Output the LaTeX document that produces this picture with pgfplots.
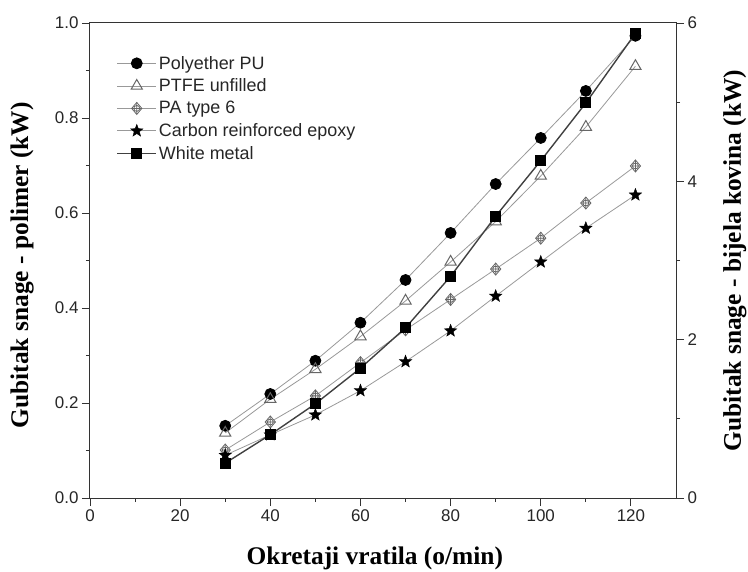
\documentclass[border=0pt]{standalone}
\usepackage{pgfplots}
\pgfplotsset{compat=1.18}
\usepackage{fontspec}
\setmainfont{Liberation Serif}
\newfontfamily\sansfont{Liberation Sans}
\usetikzlibrary{plotmarks}

\pgfdeclareplotmark{diamondplus}{%
  \pgfpathmoveto{\pgfqpoint{0pt}{\pgfplotmarksize}}%
  \pgfpathlineto{\pgfqpoint{.85\pgfplotmarksize}{0pt}}%
  \pgfpathlineto{\pgfqpoint{0pt}{-\pgfplotmarksize}}%
  \pgfpathlineto{\pgfqpoint{-.85\pgfplotmarksize}{0pt}}%
  \pgfpathclose
  \pgfusepathqfillstroke
  \pgfpathcircle{\pgfpointorigin}{.5\pgfplotmarksize}%
  \pgfpathmoveto{\pgfqpoint{0pt}{\pgfplotmarksize}}%
  \pgfpathlineto{\pgfqpoint{0pt}{-\pgfplotmarksize}}%
  \pgfpathmoveto{\pgfqpoint{.85\pgfplotmarksize}{0pt}}%
  \pgfpathlineto{\pgfqpoint{-.85\pgfplotmarksize}{0pt}}%
  \pgfusepathqstroke
}
\pgfdeclareplotmark{fstar}{%
  \pgfpathmoveto{\pgfpointpolar{90}{\pgfplotmarksize}}%
  \pgfpathlineto{\pgfpointpolar{126}{.42\pgfplotmarksize}}%
  \pgfpathlineto{\pgfpointpolar{162}{\pgfplotmarksize}}%
  \pgfpathlineto{\pgfpointpolar{198}{.42\pgfplotmarksize}}%
  \pgfpathlineto{\pgfpointpolar{234}{\pgfplotmarksize}}%
  \pgfpathlineto{\pgfpointpolar{270}{.42\pgfplotmarksize}}%
  \pgfpathlineto{\pgfpointpolar{306}{\pgfplotmarksize}}%
  \pgfpathlineto{\pgfpointpolar{342}{.42\pgfplotmarksize}}%
  \pgfpathlineto{\pgfpointpolar{18}{\pgfplotmarksize}}%
  \pgfpathlineto{\pgfpointpolar{54}{.42\pgfplotmarksize}}%
  \pgfpathclose
  \pgfusepathqfillstroke
}

\begin{document}
\begin{tikzpicture}
\pgfplotsset{
  myaxis/.style={
    width=586bp, height=475bp, scale only axis,
    xmin=0, xmax=130,
    tick label style={font=\sansfont\fontsize{17}{19}\selectfont, text=black!85},
    /pgf/number format/assume math mode=true,
    major tick length=8bp, minor tick length=4bp,
    axis line style={black!80, line width=1bp},
    every tick/.style={black!80, line width=0.9bp},
  },
}
\begin{axis}[myaxis, name=main,
  ymin=0, ymax=1,
  xtick={0,20,40,60,80,100,120}, minor x tick num=1,
  ytick={0,0.2,0.4,0.6,0.8,1}, minor y tick num=1,
  xtick pos=lower, ytick pos=left, tick align=outside,
  yticklabel style={/pgf/number format/.cd, fixed, fixed zerofill, precision=1},
  every axis x label/.style={at={(axis description cs:0.486,0)}, anchor=north, yshift=-49bp, inner sep=0pt},
  every axis y label/.style={at={(axis description cs:0,0.49)}, xshift=-56bp, rotate=90, anchor=south, inner sep=0pt},
  xlabel={\fontsize{25.5}{28}\selectfont\bfseries Okretaji vratila (o/min)},
  ylabel={\fontsize{25.5}{28}\selectfont\bfseries Gubitak snage - polimer (kW)},
  legend style={draw=none, fill=none, at={(axis description cs:0.045,0.935)}, anchor=north west,
    font=\sansfont\fontsize{18}{20}\selectfont, row sep=4.2bp, inner sep=0pt, text=black!85},
  legend cell align=left,
  legend image code/.code={\draw[mark repeat=2,mark phase=2,#1] plot coordinates {(0bp,0bp) (19.5bp,0bp) (39bp,0bp)};},
]
\addplot[black!40, line width=0.8bp, mark=*, mark size=5.5bp, mark options={fill=black, draw=black, solid}]
  coordinates {(30,0.152) (40,0.219) (50,0.289) (60,0.369) (70,0.459) (80,0.558) (90,0.661) (100,0.758) (110,0.857) (121,0.973)};
\addlegendentry{Polyether PU}
\addplot[black!40, line width=0.8bp, mark=triangle, mark size=6.5bp, mark options={fill=white, draw=black!60, line width=1bp, solid}]
  coordinates {(30,0.137) (40,0.208) (50,0.271) (60,0.340) (70,0.415) (80,0.497) (90,0.582) (100,0.678) (110,0.781) (121,0.909)};
\addlegendentry{PTFE unfilled}
\addplot[black!40, line width=0.8bp, mark=diamondplus, mark size=6bp, mark options={fill=white, draw=black!60, line width=0.8bp, solid}]
  coordinates {(30,0.101) (40,0.160) (50,0.215) (60,0.285) (70,0.354) (80,0.418) (90,0.482) (100,0.547) (110,0.621) (121,0.699)};
\addlegendentry{PA type 6}
\addplot[black!40, line width=0.8bp, mark=fstar, mark size=6.5bp, mark options={fill=black, draw=black, line width=0.4bp, solid}]
  coordinates {(30,0.090) (40,0.133) (50,0.175) (60,0.226) (70,0.287) (80,0.352) (90,0.425) (100,0.497) (110,0.568) (121,0.638)};
\addlegendentry{Carbon reinforced epoxy}
\addlegendimage{black!75, line width=1.4bp, mark=square*, mark size=4.8bp, mark options={fill=black, draw=black, solid}}
\addlegendentry{White metal}
\end{axis}

\begin{axis}[myaxis,
  ymin=0, ymax=6,
  axis x line=none, axis y line*=right,
  ytick={0,2,4,6}, minor y tick num=1, tick align=outside,
  every axis y label/.style={at={(axis description cs:1,0.50)}, xshift=47bp, rotate=90, anchor=north, inner sep=0pt},
  ylabel={\fontsize{25.5}{28}\selectfont\bfseries Gubitak snage - bijela kovina (kW)},
]
\addplot[black!75, line width=1.4bp, mark=square*, mark size=4.8bp, mark options={fill=black, draw=black, solid}]
  coordinates {(30,0.44) (40,0.80) (50,1.19) (60,1.64) (70,2.15) (80,2.80) (90,3.56) (100,4.26) (110,4.99) (121,5.87)};
\end{axis}

\pgfresetboundingbox
\path[use as bounding box] ([shift={(-90bp,-74bp)}]main.south west) rectangle ([shift={(72bp,23bp)}]main.north east);
\end{tikzpicture}
\end{document}
